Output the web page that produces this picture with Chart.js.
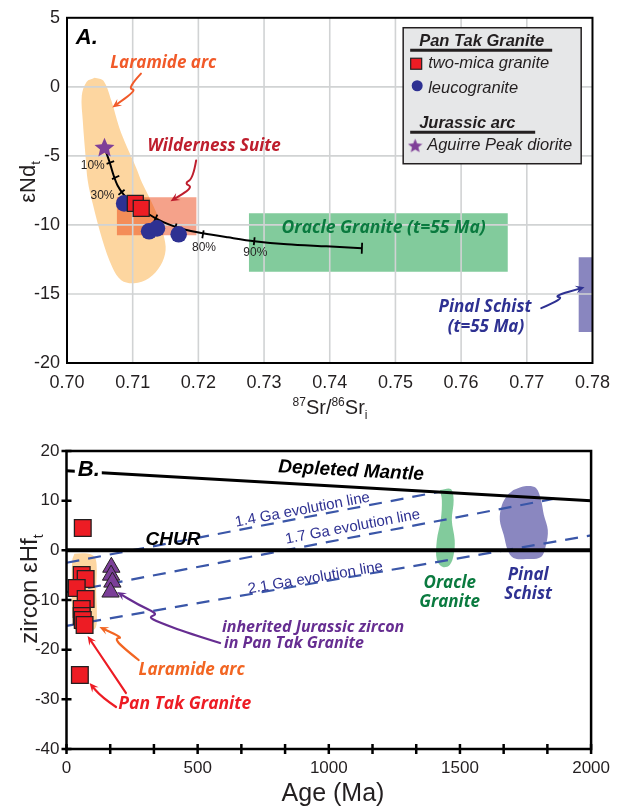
<!DOCTYPE html>
<html><head><meta charset="utf-8">
<script src="https://cdn.jsdelivr.net/npm/chart.js@4.4.1/dist/chart.umd.min.js"></script>
<style>
html,body{margin:0;padding:0;background:#fff;}
#wrap{position:relative;width:619px;height:808px;overflow:hidden;background:#fff;}
canvas{position:absolute;left:0;}
</style></head><body>
<div id="wrap">
<canvas id="cA" width="619" height="430" style="top:0px"></canvas>
<canvas id="cB" width="619" height="408" style="top:400px"></canvas>
</div>
<script>
// ================= PANEL A DATA =================
const srTicks = [0.70,0.71,0.72,0.73,0.74,0.75,0.76,0.77,0.78];
const ndTicks = [-20,-15,-10,-5,0,5];
// Laramide arc field (outline)
const laramideA_sr = [0.70420,0.70555,0.70675,0.70795,0.70916,0.71051,0.71141,0.71276,0.71396,0.71471,0.71501,0.71426,0.71246,0.71021,0.70826,0.70690,0.70540,0.70390,0.70315,0.70285,0.70240,0.70225,0.70300,0.70420];
const laramideA_nd = [0.665,0.448,-0.997,-2.948,-4.393,-5.838,-6.922,-8.223,-9.523,-10.751,-11.835,-12.919,-13.858,-14.220,-14.003,-13.064,-11.113,-8.439,-6.777,-5.188,-2.442,-0.636,0.376,0.665];
// Field boxes [min,max]
const wilderness_sr = [0.7076,0.7197], wilderness_nd = [-8.0,-10.75];
const oracleA_sr = [0.7277,0.7671], oracleA_nd = [-9.15,-13.4];
const pinalA_sr = [0.7779,0.7800], pinalA_nd = [-12.34,-17.76];
// Mixing curve
const mix_sr = [0.7057,0.7065,0.7071,0.7077,0.7086,0.7095,0.7105,0.7120,0.7135,0.7155,0.7177,0.7207,0.7245,0.7285,0.7335,0.7395,0.7449];
const mix_nd = [-4.39,-5.48,-6.42,-7.14,-7.79,-8.22,-8.66,-9.09,-9.52,-9.96,-10.32,-10.61,-10.90,-11.18,-11.40,-11.55,-11.69];
const mixTick_pct = [10,20,30,40,50,60,70,80,90,100];
const mixTick_sr = [0.7066,0.7074,0.7083,0.7099,0.7117,0.7135,0.7165,0.7207,0.7285,0.7449];
const mixTick_nd = [-5.48,-6.56,-7.64,-8.51,-9.02,-9.52,-10.17,-10.68,-11.18,-11.69];
const mixTick_rot = [-20,-25,-40,-55,-60,-65,-73,-80,-84,-88];
// Samples
const twoMica_sr = [0.7104,0.7113], twoMica_nd = [-8.44,-8.80];
const leuco_sr = [0.7087,0.7125,0.7137,0.7170], leuco_nd = [-8.44,-10.46,-10.25,-10.68];
const aguirre_sr = [0.7057], aguirre_nd = [-4.39];
const legendA_labels = ['Pan Tak Granite','two-mica granite','leucogranite','Jurassic arc','Aguirre Peak diorite'];

// ================= PANEL B DATA =================
const ageTicks = [0,166.667,333.333,500,666.667,833.333,1000,1166.667,1333.333,1500,1666.667,1833.333,2000];
const hfTicks = [-40,-30,-20,-10,0,10,20];
const panTak_age = [62,58,73,39,73,58,58,62,69,51];
const panTak_hf  = [4.5,-4.97,-5.77,-7.58,-9.8,-11.81,-13.22,-14.03,-15.03,-25.1];
const jurassic_age = [171,170,175,168];
const jurassic_hf  = [-3.4,-5.0,-6.4,-8.4];
const laramideB_age = [30,70,105,115,113,116,112,95,60,30,22,20,22,30];
const laramideB_hf  = [-0.7,-0.6,-1.2,-3,-8,-13,-15.5,-16.2,-16.3,-15.8,-13,-7,-2,-0.7];
const oracleB_age = [1424,1465,1476,1469,1480,1476,1461,1435,1412,1412,1427,1431,1424];
const oracleB_hf  = [12.15,12.35,10.13,6.11,2.08,-0.94,-2.95,-3.36,-1.95,2.08,6.11,10.13,12.15];
const pinalB_age = [1704,1753,1790,1809,1820,1835,1828,1809,1753,1704,1682,1667,1652,1660,1682,1704];
const pinalB_hf  = [12.15,12.95,12.55,10.13,7.11,4.09,1.07,-1.34,-1.74,-1.54,0.07,3.09,6.11,9.13,11.14,12.15];
const dm_age = [0,2000], dm_hf = [16.0,10.0];
const chur_age = [0,2000], chur_hf = [0,0];
const evo14_age = [0,1418], evo14_hf = [-2.5,11.75];
const evo17_age = [0,1860], evo17_hf = [-8.4,10.4];
const evo21_age = [0,2000], evo21_hf = [-15.2,3.0];

// ================= HELPERS =================
const pts = (xs, ys) => xs.map((x,i)=>({x:x, y:ys[i]}));
const box = (xr, yr) => [{x:xr[0],y:yr[0]},{x:xr[1],y:yr[0]},{x:xr[1],y:yr[1]},{x:xr[0],y:yr[1]},{x:xr[0],y:yr[0]}];
const ARIAL = '"Liberation Sans", Arial, sans-serif';
const ANN = s => 'italic 700 ' + s + 'px "Open Sans", sans-serif';
function makeStar(size, color){
  const c=document.createElement('canvas'); c.width=size; c.height=size;
  const g=c.getContext('2d'); const R=size/2, r=R*0.45;
  g.beginPath();
  for(let i=0;i<10;i++){const a=-Math.PI/2+i*Math.PI/5; const rr=(i%2)?r:R; g.lineTo(R+rr*Math.cos(a), R+rr*Math.sin(a)+size*0.03);}
  g.closePath(); g.fillStyle=color; g.fill(); return c;
}
const STAR = makeStar(21,'#7F3F98');
const STAR_SMALL = makeStar(15,'#7F3F98');
function P(chart,x,y){return [chart.scales.x.getPixelForValue(x), chart.scales.y.getPixelForValue(y)];}
function drawTexts(chart, list){
  const ctx=chart.ctx;
  list.forEach(o=>{
    const [X,Y]=P(chart,o.x,o.y);
    ctx.save(); ctx.translate(X,Y); if(o.rot) ctx.rotate(o.rot*Math.PI/180);
    ctx.font=o.font; ctx.textAlign=o.align||'center'; ctx.textBaseline='middle';
    if(o.bg){const w=ctx.measureText(o.t).width; const x0=(o.align==='left')?0:-w/2; ctx.fillStyle=o.bg; ctx.fillRect(x0-3,-11,w+5,22);}
    ctx.fillStyle=o.color||'#000'; ctx.fillText(o.t,0,0); ctx.restore();
  });
}
function drawArrow(chart, path, color, width){
  const ctx=chart.ctx; const p=path.map(q=>P(chart,q[0],q[1])); const n=p.length;
  const [ex,ey]=p[n-1], [qx,qy]=p[n-2]; const ang=Math.atan2(ey-qy, ex-qx); const hl=10;
  ctx.save(); ctx.strokeStyle=color; ctx.fillStyle=color; ctx.lineWidth=width; ctx.lineJoin='round'; ctx.lineCap='round';
  ctx.beginPath(); ctx.moveTo(p[0][0],p[0][1]);
  for(let i=1;i<n-1;i++){const mx=(p[i][0]+p[i+1][0])/2, my=(p[i][1]+p[i+1][1])/2; ctx.quadraticCurveTo(p[i][0],p[i][1],mx,my);}
  ctx.lineTo(ex-Math.cos(ang)*hl*0.6, ey-Math.sin(ang)*hl*0.6); ctx.stroke();
  ctx.beginPath(); ctx.moveTo(ex,ey);
  ctx.lineTo(ex-hl*Math.cos(ang-0.42), ey-hl*Math.sin(ang-0.42));
  ctx.lineTo(ex-hl*0.55*Math.cos(ang), ey-hl*0.55*Math.sin(ang));
  ctx.lineTo(ex-hl*Math.cos(ang+0.42), ey-hl*Math.sin(ang+0.42));
  ctx.closePath(); ctx.fill(); ctx.restore();
}
function richText(ctx, parts, cx, cy, rot){
  ctx.save(); ctx.translate(cx,cy); ctx.rotate(rot); ctx.textBaseline='alphabetic'; ctx.textAlign='left'; ctx.fillStyle='#231F20';
  let total=0; parts.forEach(p=>{ctx.font=p.size+'px '+ARIAL; p.w=ctx.measureText(p.t).width; total+=p.w;});
  let x=-total/2; parts.forEach(p=>{ctx.font=p.size+'px '+ARIAL; ctx.fillText(p.t,x,p.dy); x+=p.w;});
  ctx.restore();
}
function frame(chart, lw){
  const {ctx, chartArea:a}=chart; ctx.save(); ctx.strokeStyle='#000'; ctx.lineWidth=lw;
  ctx.strokeRect(a.left,a.top,a.right-a.left,a.bottom-a.top); ctx.restore();
}

// ================= PANEL A =================
const textsA = [
  {t:'A.', x:0.70135, y:3.555, font:'italic 700 22px '+ARIAL, align:'left'},
  {t:'Laramide arc', x:0.71466, y:1.75, font:ANN(17), color:'#F15A29'},
  {t:'Wilderness Suite', x:0.72240, y:-4.32, font:ANN(17), color:'#BE1E2D'},
  {t:'Oracle Granite (t=55 Ma)', x:0.74820, y:-10.25, font:ANN(17.5), color:'#0A7A3F'},
  {t:'Pinal Schist', x:0.76364, y:-15.95, font:ANN(17), color:'#2E3192'},
  {t:'(t=55 Ma)', x:0.76379, y:-17.40, font:ANN(17), color:'#2E3192'},
  {t:'10%', x:0.70575, y:-5.69, font:'12px '+ARIAL, align:'right', color:'#231F20'},
  {t:'30%', x:0.70540, y:-7.86, font:'12px '+ARIAL, color:'#231F20'},
  {t:'80%', x:0.72086, y:-11.62, font:'12px '+ARIAL, color:'#231F20'},
  {t:'90%', x:0.72867, y:-11.98, font:'12px '+ARIAL, color:'#231F20'}
];
const arrowsA = [
  {c:'#F15A29', p:[[0.71126,0.954],[0.70916,-0.13],[0.71066,-0.202],[0.70690,-1.503]]},
  {c:'#BE1E2D', p:[[0.71966,-5.33],[0.71921,-6.63],[0.71786,-6.99],[0.71921,-7.28],[0.71576,-8.29]]},
  {c:'#2E3192', p:[[0.77220,-16.03],[0.77580,-15.30],[0.77400,-15.16],[0.77880,-14.51]]}
];
const legendAnchorA = {x:0.75118, y:4.28};

const pluginA = {
  id:'decorA',
  afterDatasetDraw(chart,args){
    const ds=chart.data.datasets[args.index]; if(!ds.lastFill) return;
    const {ctx, chartArea:a, scales:{x,y}}=chart;
    ctx.save(); ctx.strokeStyle='#D1D3D4'; ctx.lineWidth=1.6; ctx.beginPath();
    x.ticks.forEach(t=>{const p=x.getPixelForValue(t.value); if(p>a.left+2&&p<a.right-2){ctx.moveTo(p,a.top);ctx.lineTo(p,a.bottom);}});
    y.ticks.forEach(t=>{const p=y.getPixelForValue(t.value); if(p>a.top+2&&p<a.bottom-2){ctx.moveTo(a.left,p);ctx.lineTo(a.right,p);}});
    ctx.stroke(); ctx.restore();
  },
  afterDatasetsDraw(chart){
    arrowsA.forEach(o=>drawArrow(chart,o.p,o.c,2));
    drawTexts(chart,textsA);
    const ctx=chart.ctx; const [L,T]=P(chart,legendAnchorA.x,legendAnchorA.y);
    ctx.save();
    ctx.fillStyle='#E6E7E8'; ctx.fillRect(L,T,178,136);
    ctx.strokeStyle='#231F20'; ctx.lineWidth=1.5; ctx.strokeRect(L,T,178,136);
    ctx.textAlign='left'; ctx.textBaseline='middle'; ctx.fillStyle='#231F20';
    ctx.font='italic 700 16.5px '+ARIAL; ctx.fillText(legendA_labels[0],L+16,T+14);
    ctx.fillRect(L+7,T+21,142,3);
    ctx.font='italic 16.5px '+ARIAL; ctx.fillText(legendA_labels[1],L+25,T+36);
    ctx.fillStyle='#ED1C24'; ctx.fillRect(L+7.5,T+30.5,11,11); ctx.strokeStyle='#231F20'; ctx.lineWidth=1.2; ctx.strokeRect(L+7.5,T+30.5,11,11);
    ctx.fillStyle='#2E3192'; ctx.beginPath(); ctx.arc(L+14,T+58,5.5,0,Math.PI*2); ctx.fill();
    ctx.fillStyle='#231F20'; ctx.fillText(legendA_labels[2],L+25,T+61);
    ctx.font='italic 700 16.5px '+ARIAL; ctx.fillText(legendA_labels[3],L+16,T+96);
    ctx.fillRect(L+7,T+103,125,3);
    ctx.drawImage(STAR_SMALL,L+12-7.5,T+118-7.5);
    ctx.font='italic 16.5px '+ARIAL; ctx.fillText(legendA_labels[4],L+24,T+118);
    ctx.restore();
  },
  afterDraw(chart){
    frame(chart,2);
    const ctx=chart.ctx;
    richText(ctx,[{t:'εNd',size:22,dy:0},{t:'t',size:13,dy:5}],35,182,-Math.PI/2);
    richText(ctx,[{t:'87',size:12,dy:-8},{t:'Sr/',size:20,dy:0},{t:'86',size:12,dy:-8},{t:'Sr',size:20,dy:0},{t:'i',size:12,dy:5}],330,414,0);
  }
};

const fillDS = (data, color, order, extra) => Object.assign({type:'line', data:data, fill:'shape', backgroundColor:color, borderColor:'transparent', borderWidth:0, pointRadius:0, tension:0, order:order}, extra||{});

new Chart(document.getElementById('cA'), {
  type:'scatter',
  data:{datasets:[
    fillDS(pts(laramideA_sr,laramideA_nd),'#FDD6A0',10,{tension:0.35}),
    fillDS(box(wilderness_sr,wilderness_nd),'rgba(235,60,10,0.48)',9),
    fillDS(box(oracleA_sr,oracleA_nd),'#82CB9C',8),
    fillDS(box(pinalA_sr,pinalA_nd),'#8986BF',7,{lastFill:true}),
    {type:'line', data:pts(mix_sr,mix_nd), borderColor:'#000', borderWidth:2, pointRadius:0, fill:false, tension:0.3, order:6},
    {type:'scatter', data:pts(mixTick_sr,mixTick_nd), pointStyle:'line', pointRadius:[4,4,4,4,4,4,4,4,4,5.5], pointRotation:mixTick_rot, pointBorderColor:'#000', pointBorderWidth:1.8, order:5},
    {type:'scatter', label:'leucogranite', data:pts(leuco_sr,leuco_nd), pointStyle:'circle', pointRadius:8.3, pointBackgroundColor:'#2E3192', pointBorderColor:'#2E3192', pointBorderWidth:0, order:3},
    {type:'scatter', label:'two-mica granite', data:pts(twoMica_sr,twoMica_nd), pointStyle:'rect', pointRadius:11.3, pointBackgroundColor:'#ED1C24', pointBorderColor:'#231F20', pointBorderWidth:1.3, order:2},
    {type:'scatter', label:'Aguirre Peak diorite', data:pts(aguirre_sr,aguirre_nd), pointStyle:STAR, order:1}
  ]},
  options:{
    responsive:false, devicePixelRatio:1, animation:false, events:[],
    layout:{padding:{top:17,right:19,left:0,bottom:0}},
    plugins:{legend:{display:false}, tooltip:{enabled:false}},
    scales:{
      x:{type:'linear', min:0.70, max:0.78, afterBuildTicks:s=>{s.ticks=srTicks.map(v=>({value:v}));},
         afterFit:s=>{s.height=67;}, grid:{display:false, drawTicks:false}, border:{display:false},
         ticks:{padding:9, color:'#231F20', font:{family:'"Liberation Sans"', size:18}, autoSkip:false, maxRotation:0, callback:v=>Number(v).toFixed(2)}},
      y:{type:'linear', min:-20, max:5, afterBuildTicks:s=>{s.ticks=ndTicks.map(v=>({value:v}));},
         afterFit:s=>{s.width=67;}, grid:{display:false, drawTicks:false}, border:{display:false},
         ticks:{padding:7, color:'#231F20', font:{family:'"Liberation Sans"', size:18}, autoSkip:false, callback:v=>String(v)}}
    }
  },
  plugins:[pluginA]
});

// ================= PANEL B =================
const textsB = [
  {t:'B.', x:43, y:16.17, font:'italic 700 22px '+ARIAL, align:'left', bg:'#fff'},
  {t:'Depleted Mantle', x:1085, y:15.97, font:'italic 700 19px '+ARIAL, rot:3.1},
  {t:'CHUR', x:406, y:2.08, font:'italic 700 19px '+ARIAL},
  {t:'1.4 Ga evolution line', x:900, y:8.12, font:'15px '+ARIAL, color:'#2E3192', rot:-10.6},
  {t:'1.7 Ga evolution line', x:1091, y:4.70, font:'15px '+ARIAL, color:'#2E3192', rot:-10.6},
  {t:'2.1 Ga evolution line', x:949, y:-5.57, font:'15px '+ARIAL, color:'#2E3192', rot:-9.6},
  {t:'Oracle', x:1461, y:-6.58, font:ANN(17), color:'#0A7A3F'},
  {t:'Granite', x:1461, y:-10.40, font:ANN(17), color:'#0A7A3F'},
  {t:'Pinal', x:1760, y:-4.97, font:ANN(17), color:'#2E3192'},
  {t:'Schist', x:1760, y:-8.79, font:ANN(17), color:'#2E3192'},
  {t:'inherited Jurassic zircon', x:593, y:-15.44, font:ANN(16), color:'#662D91', align:'left'},
  {t:'in Pan Tak Granite', x:600, y:-18.66, font:ANN(16), color:'#662D91', align:'left'},
  {t:'Laramide arc', x:477, y:-24.09, font:ANN(17), color:'#F26522'},
  {t:'Pan Tak Granite', x:451, y:-30.94, font:ANN(17.5), color:'#ED1C24'}
];
const arrowsB = [
  {c:'#662D91', p:[[585.6,-18.66],[462.1,-16.64],[349.9,-14.43],[312.4,-13.42],[349.9,-12.82],[275.0,-11.01],[192.7,-8.39]]},
  {c:'#F26522', p:[[275.0,-22.08],[207.7,-19.26],[185.2,-17.65],[215.2,-17.65],[125.4,-15.44]]},
  {c:'#ED1C24', p:[[226.4,-28.72],[155.3,-23.09],[80.4,-17.25]]},
  {c:'#ED1C24', p:[[189.0,-31.54],[132.8,-29.53],[87.9,-26.71]]}
];
const pluginB = {
  id:'decorB',
  afterDatasetsDraw(chart){
    arrowsB.forEach(o=>drawArrow(chart,o.p,o.c,2.2));
    drawTexts(chart,textsB);
  },
  afterDraw(chart){
    frame(chart,2.5);
    const {ctx, chartArea:a, scales:{x,y}}=chart;
    ctx.save(); ctx.strokeStyle='#000'; ctx.lineWidth=2.5; ctx.beginPath();
    y.ticks.forEach(t=>{const p=y.getPixelForValue(t.value); ctx.moveTo(a.left-5,p); ctx.lineTo(a.left+5,p);});
    x.ticks.forEach(t=>{const p=x.getPixelForValue(t.value); ctx.moveTo(p,a.bottom-5); ctx.lineTo(p,a.bottom+5);});
    ctx.stroke(); ctx.restore();
    richText(ctx,[{t:'zircon εHf',size:24,dy:0},{t:'t',size:14,dy:6}],37,189,-Math.PI/2);
    richText(ctx,[{t:'Age (Ma)',size:25,dy:0}],333,401,0);
  }
};
const lineDS = (data,color,width,order,dash) => ({type:'line', data:data, borderColor:color, borderWidth:width, borderDash:dash||[], pointRadius:0, fill:false, tension:0, order:order});

new Chart(document.getElementById('cB'), {
  type:'scatter',
  data:{datasets:[
    fillDS(pts(laramideB_age,laramideB_hf),'#FDD6A0',10,{tension:0.35}),
    fillDS(pts(oracleB_age,oracleB_hf),'#82CB9C',9,{tension:0.35}),
    fillDS(pts(pinalB_age,pinalB_hf),'#8A87C0',8,{tension:0.35}),
    lineDS(pts(evo14_age,evo14_hf),'#3A56A8',2.2,7,[13,9]),
    lineDS(pts(evo17_age,evo17_hf),'#3A56A8',2.2,7,[13,9]),
    lineDS(pts(evo21_age,evo21_hf),'#3A56A8',2.2,7,[13,9]),
    lineDS(pts(dm_age,dm_hf),'#000',3,5),
    lineDS(pts(chur_age,chur_hf),'#000',4,4),
    {type:'scatter', label:'inherited Jurassic zircon', data:pts(jurassic_age,jurassic_hf), pointStyle:'triangle', pointRadius:10, pointBackgroundColor:'#7B3F98', pointBorderColor:'#231F20', pointBorderWidth:1, order:3},
    {type:'scatter', label:'Pan Tak Granite', data:pts(panTak_age,panTak_hf), pointStyle:'rect', pointRadius:11.8, pointBackgroundColor:'#ED1C24', pointBorderColor:'#231F20', pointBorderWidth:1.3, order:2}
  ]},
  options:{
    responsive:false, devicePixelRatio:1, animation:false, events:[],
    layout:{padding:{top:51,right:18,left:0,bottom:0}},
    plugins:{legend:{display:false}, tooltip:{enabled:false}},
    scales:{
      x:{type:'linear', min:0, max:2000, afterBuildTicks:s=>{s.ticks=ageTicks.map(v=>({value:v}));},
         afterFit:s=>{s.height=59;}, grid:{display:false, drawTicks:false}, border:{display:false},
         ticks:{padding:9, color:'#231F20', font:{family:'"Liberation Sans"', size:17}, autoSkip:false, maxRotation:0,
                callback:v=>{const r=Math.round(v); return (Math.abs(v-r)<0.01 && r%500===0)?String(r):'';}}},
      y:{type:'linear', min:-40, max:20, afterBuildTicks:s=>{s.ticks=hfTicks.map(v=>({value:v}));},
         afterFit:s=>{s.width=66.5;}, grid:{display:false, drawTicks:false}, border:{display:false},
         ticks:{padding:7, color:'#231F20', font:{family:'"Liberation Sans"', size:17}, autoSkip:false, callback:v=>String(v)}}
    }
  },
  plugins:[pluginB]
});
</script>
</body></html>
